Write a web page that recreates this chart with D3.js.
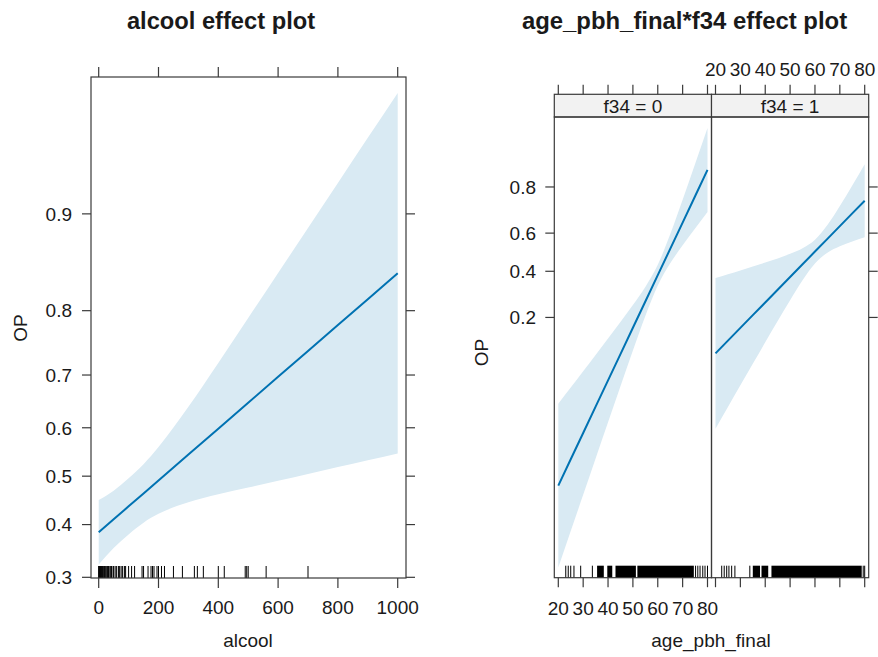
<!DOCTYPE html>
<html>
<head>
<meta charset="utf-8">
<script src="https://cdn.jsdelivr.net/npm/d3@7"></script>
<style>
  body { margin: 0; background: #fff; }
  text { font-family: "Liberation Sans", Arial, sans-serif; fill: #1a1a1a; }
</style>
</head>
<body>
<script>
// ---- data ----
// left: alcool effect (probabilities)
const alcool      = [0, 50, 100, 150, 200, 300, 400, 500, 600, 700, 800, 900, 1000]
const alcoolFit   = [0.3846, 0.4106, 0.4371, 0.4639, 0.4910, 0.5451, 0.5982, 0.6491, 0.6968, 0.7406, 0.7800, 0.8150, 0.8455]
const alcoolLower = [0.3230, 0.3540, 0.3804, 0.4038, 0.4217, 0.4455, 0.4621, 0.4763, 0.4905, 0.5047, 0.5190, 0.5332, 0.5474]
const alcoolUpper = [0.4502, 0.4697, 0.4955, 0.5251, 0.5607, 0.6413, 0.7207, 0.7900, 0.8458, 0.8888, 0.9210, 0.9445, 0.9612]
const alcoolRug   = [0, 1, 2, 4, 5, 7, 8, 10, 12, 14, 15, 18, 20, 22, 25, 28, 30, 33, 35, 40, 43, 48, 50, 55, 60, 66, 70,
                     75, 80, 86, 90, 100, 110, 120, 145, 150, 165, 175, 180, 185, 195, 200, 210, 220, 250, 280, 320, 330,
                     350, 400, 420, 490, 495, 500, 560, 700]
const alcoolTicksX = [0, 200, 400, 600, 800, 1000]
const alcoolTicksY = [0.3, 0.4, 0.5, 0.6, 0.7, 0.8, 0.9]

// right: age_pbh_final * f34 effect (probabilities)
const age       = [20, 25, 30, 35, 40, 45, 50, 55, 60, 65, 70, 75, 80]
const f34Levels = ["f34 = 0", "f34 = 1"]
const ageFit0   = [0.00696, 0.01212, 0.0210, 0.0362, 0.0616, 0.1029, 0.1671, 0.2598, 0.3804, 0.5177, 0.6525, 0.7666, 0.8517]
const ageLower0 = [0.00123, 0.00266, 0.00573, 0.01232, 0.0262, 0.0547, 0.1100, 0.2050, 0.3300, 0.4410, 0.5363, 0.6237, 0.7020]
const ageUpper0 = [0.0385, 0.0534, 0.0739, 0.1014, 0.1379, 0.1853, 0.2457, 0.3233, 0.4334, 0.5937, 0.7529, 0.8668, 0.9334]
const ageFit1   = [0.1044, 0.1325, 0.1669, 0.2079, 0.2558, 0.3105, 0.3711, 0.4361, 0.5034, 0.5705, 0.6351, 0.6952, 0.7492]
const ageLower1 = [0.0230, 0.0359, 0.0558, 0.0854, 0.1284, 0.1879, 0.2651, 0.3549, 0.4404, 0.4975, 0.5315, 0.5571, 0.5794]
const ageUpper1 = [0.3661, 0.3848, 0.4044, 0.4243, 0.4450, 0.4669, 0.4912, 0.5209, 0.5662, 0.6405, 0.7274, 0.8052, 0.8663]
// rug: single ticks and solid runs of ticks
const ageRugTicks0  = [23, 24, 25, 26.3, 29, 33.7, 75.2, 76.1, 77, 78.1, 79, 80]
const ageRugBlocks0 = [[35.6, 38.3], [39.7, 41.7], [43, 51.2], [51.8, 74.5]]
const ageRugTicks1  = [22.5, 23.5, 24.5, 25.4, 26.5, 27.8, 33.8, 79.4, 80]
const ageRugBlocks1 = [[35, 37.9], [38.5, 41.2], [42.5, 78.8]]
const ageTicksX = [20, 30, 40, 50, 60, 70, 80]
const ageTicksY = [0.2, 0.4, 0.6, 0.8]

const W = 878, H = 657
const fs = 19
const lineCol = "#0072B2", bandCol = "#d9eaf3", axCol = "#3a3a3a"
const logit = p => Math.log(p / (1 - p))

const svg = d3.select("body").append("svg")
    .attr("width", W)
    .attr("height", H)

// ---------- left: alcool ----------
const L = { x0: 91, x1: 406, y0: 77, y1: 578 }
const xA = d3.scaleLinear().domain([0, 1000]).range([98.7, 397.7])
const yA = d3.scaleLinear().domain([logit(0.2988), logit(0.9659)]).range([L.y1, L.y0])
const yAp = p => yA(logit(p))

const alcoolRows = alcool.map((a, i) => ({ x: a, fit: alcoolFit[i], lo: alcoolLower[i], hi: alcoolUpper[i] }))

const gL = svg.append("g")

gL.append("path")
    .datum(alcoolRows)
    .attr("fill", bandCol)
    .attr("d", d3.area().curve(d3.curveMonotoneX).x(d => xA(d.x)).y0(d => yAp(d.lo)).y1(d => yAp(d.hi)))

gL.append("path")
    .datum(alcoolRows)
    .attr("fill", "none")
    .attr("stroke", lineCol)
    .attr("stroke-width", 2)
    .attr("d", d3.line().x(d => xA(d.x)).y(d => yAp(d.fit)))

gL.selectAll(".rug")
    .data(alcoolRug)
    .enter()
    .append("line")
        .attr("x1", d => xA(d)).attr("x2", d => xA(d))
        .attr("y1", L.y1 - 12).attr("y2", L.y1)
        .attr("stroke", "#000")
        .attr("stroke-width", 1)

gL.append("rect")
    .attr("x", L.x0).attr("y", L.y0)
    .attr("width", L.x1 - L.x0).attr("height", L.y1 - L.y0)
    .attr("fill", "none")
    .attr("stroke", axCol)
    .attr("stroke-width", 1.2)

// x ticks bottom + top
alcoolTicksX.forEach(t => {
    gL.append("line").attr("x1", xA(t)).attr("x2", xA(t)).attr("y1", L.y1).attr("y2", L.y1 + 10).attr("stroke", axCol).attr("stroke-width", 1.2)
    gL.append("line").attr("x1", xA(t)).attr("x2", xA(t)).attr("y1", L.y0).attr("y2", L.y0 - 10).attr("stroke", axCol).attr("stroke-width", 1.2)
    gL.append("text").attr("x", xA(t)).attr("y", 614).attr("text-anchor", "middle").attr("font-size", fs).text(t)
})
// y ticks left + right
alcoolTicksY.forEach(t => {
    gL.append("line").attr("x1", L.x0 - 9).attr("x2", L.x0).attr("y1", yAp(t)).attr("y2", yAp(t)).attr("stroke", axCol).attr("stroke-width", 1.2)
    gL.append("line").attr("x1", L.x1).attr("x2", L.x1 + 9).attr("y1", yAp(t)).attr("y2", yAp(t)).attr("stroke", axCol).attr("stroke-width", 1.2)
    gL.append("text").attr("x", 72).attr("y", yAp(t) + 6.8).attr("text-anchor", "end").attr("font-size", fs).text(t)
})

gL.append("text").attr("x", 221).attr("y", 29).attr("text-anchor", "middle")
    .attr("font-size", 23.7).attr("font-weight", "bold").text("alcool effect plot")
gL.append("text").attr("x", 248).attr("y", 647).attr("text-anchor", "middle").attr("font-size", fs).text("alcool")
gL.append("text").attr("transform", "translate(27,328) rotate(-90)").attr("text-anchor", "middle").attr("font-size", fs).text("OP")

// ---------- right: age_pbh_final * f34 ----------
const R = { y0: 117, y1: 577.7, strip: 94.3 }
const panels = [
    { x0: 554.3, x1: 711.5, fit: ageFit0, lo: ageLower0, hi: ageUpper0, ticks: ageRugTicks0, blocks: ageRugBlocks0, label: f34Levels[0] },
    { x0: 711.5, x1: 868.7, fit: ageFit1, lo: ageLower1, hi: ageUpper1, ticks: ageRugTicks1, blocks: ageRugBlocks1, label: f34Levels[1] }
]
const yR = d3.scaleLinear().domain([logit(0.00099), logit(0.9465)]).range([R.y1, R.y0])
const yRp = p => yR(logit(p))

const gR = svg.append("g")

panels.forEach((p, k) => {
    const x = d3.scaleLinear().domain([20, 80]).range([p.x0 + 4, p.x1 - 4])
    const rows = age.map((a, i) => ({ x: a, fit: p.fit[i], lo: p.lo[i], hi: p.hi[i] }))

    gR.append("path")
        .datum(rows)
        .attr("fill", bandCol)
        .attr("d", d3.area().curve(d3.curveMonotoneX).x(d => x(d.x)).y0(d => yRp(d.lo)).y1(d => yRp(d.hi)))

    gR.append("path")
        .datum(rows)
        .attr("fill", "none")
        .attr("stroke", lineCol)
        .attr("stroke-width", 2)
        .attr("d", d3.line().x(d => x(d.x)).y(d => yRp(d.fit)))

    gR.selectAll(".rug" + k)
        .data(p.ticks)
        .enter()
        .append("line")
            .attr("x1", d => x(d)).attr("x2", d => x(d))
            .attr("y1", R.y1 - 12).attr("y2", R.y1)
            .attr("stroke", "#000")
            .attr("stroke-width", 1)
    gR.selectAll(".rugb" + k)
        .data(p.blocks)
        .enter()
        .append("rect")
            .attr("x", d => x(d[0])).attr("width", d => x(d[1]) - x(d[0]))
            .attr("y", R.y1 - 12).attr("height", 12)
            .attr("fill", "#000")

    // strip
    gR.append("rect")
        .attr("x", p.x0).attr("y", R.strip)
        .attr("width", p.x1 - p.x0).attr("height", R.y0 - R.strip)
        .attr("fill", "#f2f2f2")
        .attr("stroke", axCol)
        .attr("stroke-width", 1.2)
    gR.append("text").attr("x", (p.x0 + p.x1) / 2).attr("y", 113).attr("text-anchor", "middle").attr("font-size", fs).text(p.label)

    gR.append("rect")
        .attr("x", p.x0).attr("y", R.y0)
        .attr("width", p.x1 - p.x0).attr("height", R.y1 - R.y0)
        .attr("fill", "none")
        .attr("stroke", axCol)
        .attr("stroke-width", 1.2)

    ageTicksX.forEach(t => {
        gR.append("line").attr("x1", x(t)).attr("x2", x(t)).attr("y1", R.y1).attr("y2", R.y1 + 9.5).attr("stroke", axCol).attr("stroke-width", 1.2)
        gR.append("line").attr("x1", x(t)).attr("x2", x(t)).attr("y1", R.strip).attr("y2", R.strip - 9.5).attr("stroke", axCol).attr("stroke-width", 1.2)
        if (k === 0) gR.append("text").attr("x", x(t)).attr("y", 615).attr("text-anchor", "middle").attr("font-size", fs).text(t)
        if (k === 1) gR.append("text").attr("x", x(t)).attr("y", 76).attr("text-anchor", "middle").attr("font-size", fs).text(t)
    })
})

ageTicksY.forEach(t => {
    gR.append("line").attr("x1", panels[0].x0 - 9).attr("x2", panels[0].x0).attr("y1", yRp(t)).attr("y2", yRp(t)).attr("stroke", axCol).attr("stroke-width", 1.2)
    gR.append("line").attr("x1", panels[1].x1).attr("x2", panels[1].x1 + 9).attr("y1", yRp(t)).attr("y2", yRp(t)).attr("stroke", axCol).attr("stroke-width", 1.2)
    gR.append("text").attr("x", 536).attr("y", yRp(t) + 6.8).attr("text-anchor", "end").attr("font-size", fs).text(t)
})

gR.append("text").attr("x", 684.5).attr("y", 29).attr("text-anchor", "middle")
    .attr("font-size", 23.9).attr("font-weight", "bold").text("age_pbh_final*f34 effect plot")
gR.append("text").attr("x", 711).attr("y", 647).attr("text-anchor", "middle").attr("font-size", fs).text("age_pbh_final")
gR.append("text").attr("transform", "translate(488,352.5) rotate(-90)").attr("text-anchor", "middle").attr("font-size", fs).text("OP")
</script>
</body>
</html>
